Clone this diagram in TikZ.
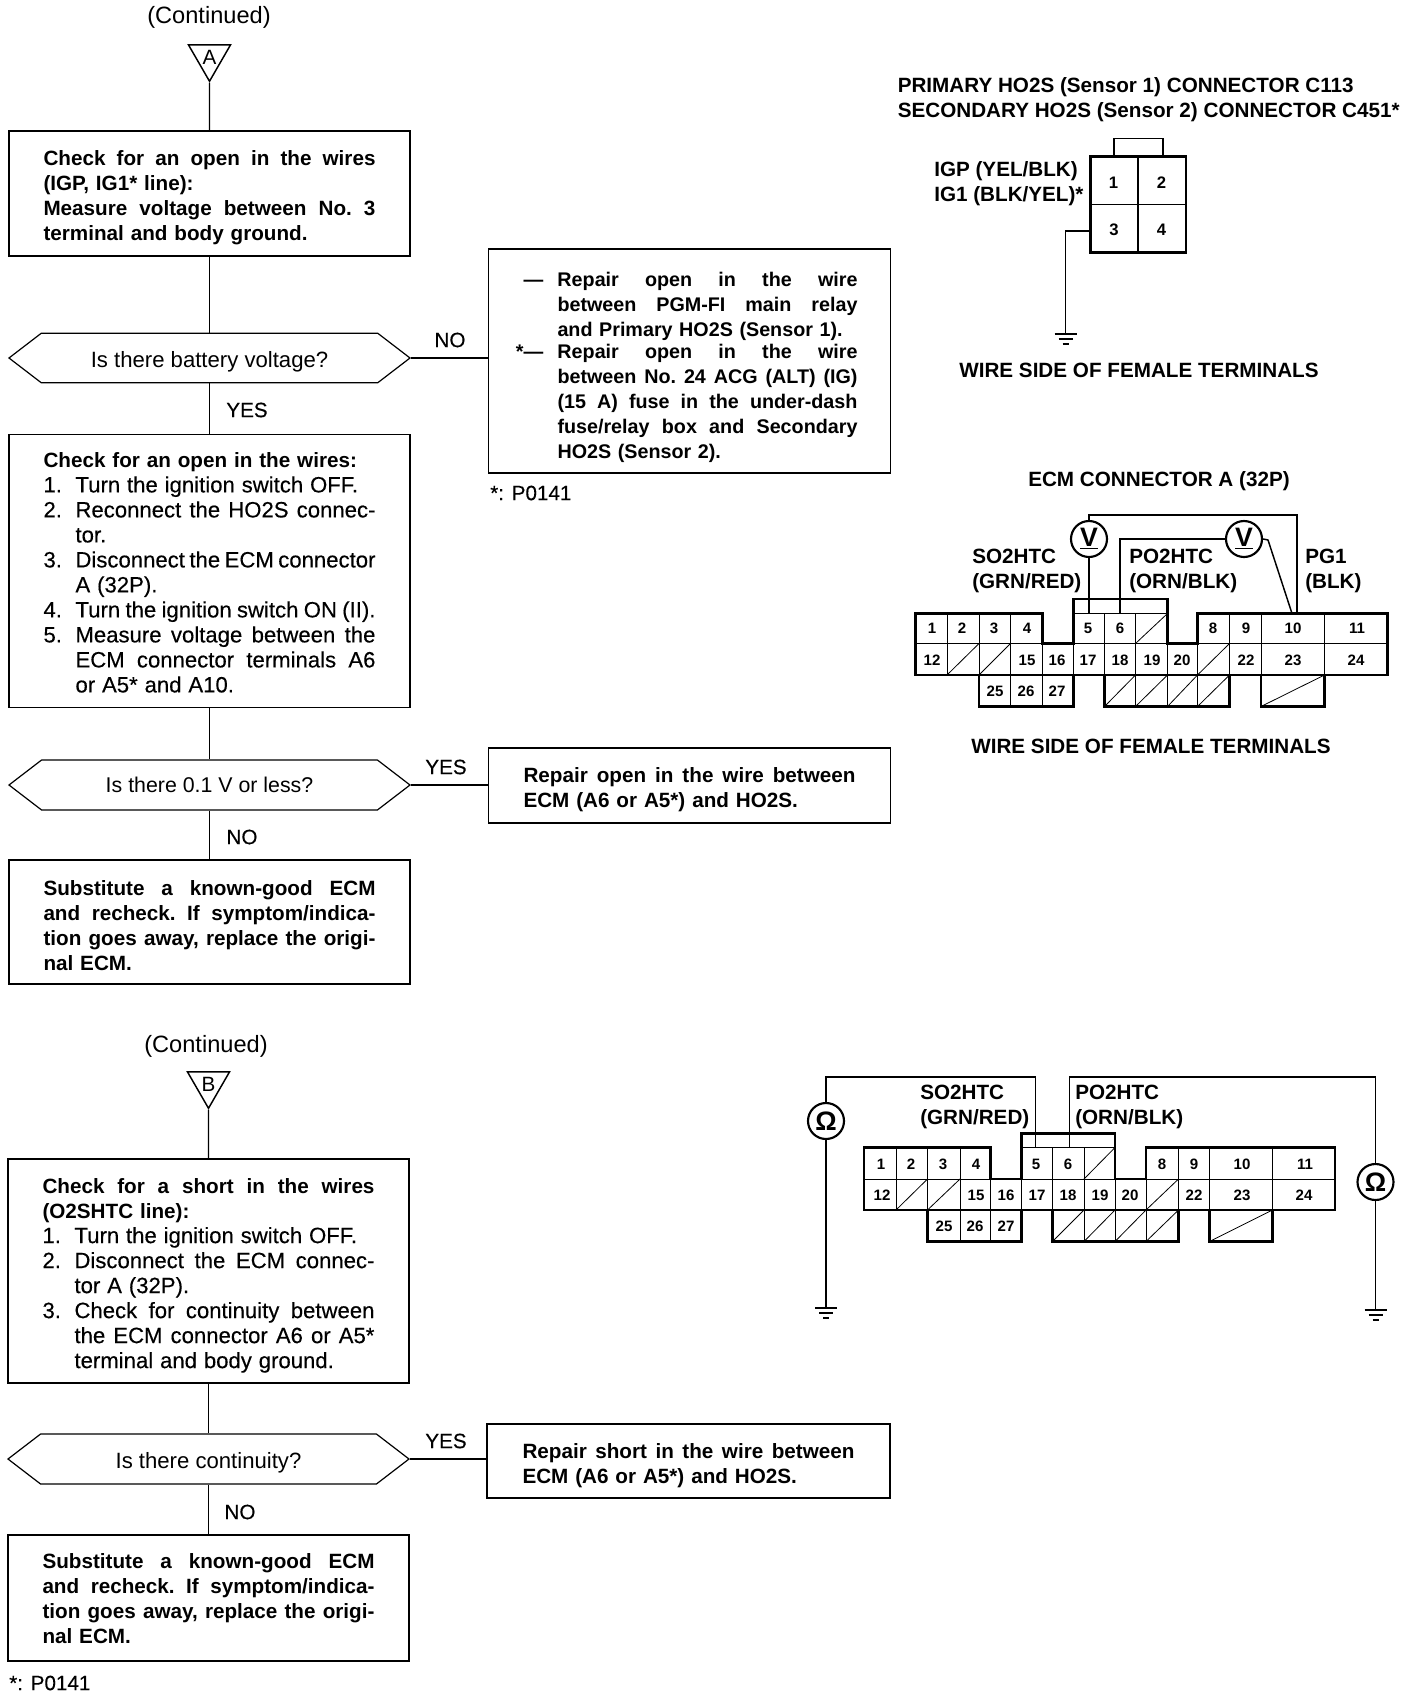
\documentclass[tikz,border=0pt]{standalone}
\usepackage{fontspec}
\setmainfont{Liberation Sans}
\newfontfamily\semifont[FakeBold=0.3]{Liberation Sans}
\usetikzlibrary{shapes.geometric,shapes.symbols}

\newcommand{\bigfont}{\fontsize{15.5pt}{18.75pt}\selectfont}
\newcommand{\plainfont}{\fontsize{16.6pt}{18.75pt}\selectfont}
\newcommand{\stepfont}{\plainfont\mdseries\semifont}
\newcommand{\fullline}[1]{\makebox[249pt][s]{\spaceskip=0pt\xspaceskip=0pt\frenchspacing #1}}
\newcommand{\stepline}[1]{\makebox[225pt][s]{\spaceskip=0pt\xspaceskip=0pt\frenchspacing #1}}
\newcommand{\stepnum}[1]{\makebox[24pt][l]{#1}}
\newcommand{\repairnum}[1]{\makebox[25.5pt][l]{#1}}
\newcommand{\dropby}[1]{\rule{0pt}{\dimexpr 11.3pt+#1\relax}}

\tikzset{
  flowline/.style={line width=1.1pt},
  flowbox/.style={draw,line width=1.1pt,inner sep=0pt,align=left,text width=249pt,font=\bigfont\bfseries},
  hexbox/.style={draw,line width=0.9pt,inner sep=0pt,signal,signal to=west and east,signal pointer angle=75,font=\plainfont},
  contri/.style={draw,line width=1.1pt,inner sep=0pt,regular polygon,regular polygon sides=3,shape border rotate=180,minimum size=36.4pt,font=\bigfont},
  flowlabel/.style={inner sep=0pt,font=\bigfont\semifont},
  conttext/.style={inner sep=0pt,font=\fontsize{17.7pt}{20pt}\selectfont},
  conntext/.style={inner sep=0pt,anchor=west,align=left,font=\bigfont\bfseries},
  pinnum/.style={inner sep=0pt,font=\fontsize{11.3pt}{13pt}\selectfont\bfseries},
  bigpinnum/.style={inner sep=0pt,font=\fontsize{12.5pt}{14pt}\selectfont\bfseries},
  outline/.style={line width=1.9pt,line join=miter},
  thinline/.style={line width=0.6pt},
  wire/.style={line width=1.1pt},
  meter/.style={draw,circle,line width=1.6pt,inner sep=0pt,minimum size=27pt,font=\fontsize{20pt}{22pt}\selectfont\bfseries},
  groundsym/.pic={
    \draw [wire] (-11,0) -- (11,0) ;
    \draw [wire] (-7,-5) -- (7,-5) ;
    \draw [wire] (-3,-10) -- (3,-10) ;
  }
}

\begin{document}
\begin{tikzpicture}[x=0.75pt,y=0.75pt,yscale=-1,xscale=1]
\useasboundingbox (0,0) rectangle (1408,1698);

% Text Node
\draw (209,17) node [conttext] (contA) {(Continued)};
%Shape: Triangle
\draw (209.5,57) node [contri] (triA) {A};
%Shape: Rectangle
\draw (209.5,193.5) node [flowbox,minimum width=300.75pt,minimum height=93.75pt] (boxAa) {\dropby{6.5pt}\fullline{Check for an open in the wires}\\
(IGP, IG1* line):\\
\fullline{Measure voltage between No. 3}\\
terminal and body ground.};
%Shape: Hexagon
\draw (209.5,358) node [hexbox,minimum width=300.75pt,minimum height=37pt] (hexAa) {\dropby{5.7pt}Is there battery voltage?};
%Shape: Rectangle
\draw (209.5,571) node [flowbox,minimum width=300.75pt,minimum height=205pt] (boxAb) {\dropby{2.2pt}Check for an open in the wires:\\
{\stepfont\stepnum{1.}Turn the ignition switch OFF.}\\
{\stepfont\stepnum{2.}\stepline{Reconnect the HO2S connec-}}\\
{\stepfont\stepnum{}tor.}\\
{\stepfont\stepnum{3.}\stepline{Disconnect the ECM connector}}\\
{\stepfont\stepnum{}A (32P).}\\
{\stepfont\stepnum{4.}\stepline{Turn the ignition switch ON (II).}}\\
{\stepfont\stepnum{5.}\stepline{Measure voltage between the}}\\
{\stepfont\stepnum{}\stepline{ECM connector terminals A6}}\\
{\stepfont\stepnum{}or A5* and A10.}};
%Shape: Hexagon
\draw (209.5,785) node [hexbox,font=\fontsize{16pt}{18.75pt}\selectfont,minimum width=300.75pt,minimum height=37.5pt] (hexAb) {Is there 0.1 V or less?};
%Shape: Rectangle
\draw (209.5,922) node [flowbox,minimum width=300.75pt,minimum height=93pt] (boxAc) {\dropby{5pt}\fullline{Substitute a known-good ECM}\\
\fullline{and recheck. If symptom/indica-}\\
\fullline{tion goes away, replace the origi-}\\
nal ECM.};
%Shape: Rectangle
\draw (689.5,361) node [flowbox,font=\fontsize{14.8pt}{18.75pt}\selectfont\bfseries,minimum width=301.5pt,minimum height=168pt] (boxAd) {\dropby{9.75pt}\repairnum{---}\stepline{Repair open in the wire}\\
\repairnum{}\stepline{between PGM-FI main relay}\\
\repairnum{}and Primary HO2S (Sensor 1).\\[-2.25pt]
\repairnum{\llap{*}---}\stepline{Repair open in the wire}\\
\repairnum{}\stepline{between No. 24 ACG (ALT) (IG)}\\
\repairnum{}\stepline{(15 A) fuse in the under-dash}\\
\repairnum{}\stepline{fuse/relay box and Secondary}\\
\repairnum{}HO2S (Sensor 2).};
%Shape: Rectangle
\draw (689.5,785.5) node [flowbox,minimum width=301.5pt,minimum height=56pt] (boxAe) {\dropby{6.5pt}\fullline{Repair open in the wire between}\\
ECM (A6 or A5*) and HO2S.};

%Straight Lines
\draw [flowline] (triA.south) -- (boxAa.north) ;
%Straight Lines
\draw [flowline] (boxAa.south) -- (hexAa.north) ;
%Straight Lines
\draw [flowline] (hexAa.south) -- (boxAb.north) ;
%Straight Lines
\draw [flowline] (boxAb.south) -- (hexAb.north) ;
%Straight Lines
\draw [flowline] (hexAb.south) -- (boxAc.north) ;
%Straight Lines
\draw [flowline] (hexAa.east) -- (hexAa.east -| boxAd.west) ;
%Straight Lines
\draw [flowline] (hexAb.east) -- (hexAb.east -| boxAe.west) ;

% Text Node
\draw (450,340) node [flowlabel] (noAa) {NO};
% Text Node
\draw (247,410) node [flowlabel] (yesAa) {YES};
% Text Node
\draw (446,767) node [flowlabel] (yesAb) {YES};
% Text Node
\draw (242,837) node [flowlabel] (noAb) {NO};
% Text Node
\draw (490,493) node [flowlabel,anchor=west] (noteA) {*: P0141};

% Text Node
\draw (206,1046) node [conttext] (contB) {(Continued)};
%Shape: Triangle
\draw (208.5,1084) node [contri] (triB) {B};
%Shape: Rectangle
\draw (208.5,1271) node [flowbox,minimum width=300.75pt,minimum height=168pt] (boxBa) {\dropby{6.5pt}\fullline{Check for a short in the wires}\\
(O2SHTC line):\\
{\stepfont\stepnum{1.}Turn the ignition switch OFF.}\\
{\stepfont\stepnum{2.}\stepline{Disconnect the ECM connec-}}\\
{\stepfont\stepnum{}tor A (32P).}\\
{\stepfont\stepnum{3.}\stepline{Check for continuity between}}\\
{\stepfont\stepnum{}\stepline{the ECM connector A6 or A5*}}\\
{\stepfont\stepnum{}terminal and body ground.}};
%Shape: Hexagon
\draw (208.5,1459) node [hexbox,minimum width=300.75pt,minimum height=37.5pt] (hexBa) {\dropby{5.7pt}Is there continuity?};
%Shape: Rectangle
\draw (208.5,1598) node [flowbox,minimum width=300.75pt,minimum height=94.5pt] (boxBb) {\dropby{1pt}\fullline{Substitute a known-good ECM}\\
\fullline{and recheck. If symptom/indica-}\\
\fullline{tion goes away, replace the origi-}\\
nal ECM.};
%Shape: Rectangle
\draw (688.5,1461) node [flowbox,minimum width=302.25pt,minimum height=55.5pt] (boxBc) {\dropby{6.4pt}\fullline{Repair short in the wire between}\\
ECM (A6 or A5*) and HO2S.};

%Straight Lines
\draw [flowline] (triB.south) -- (boxBa.north) ;
%Straight Lines
\draw [flowline] (boxBa.south) -- (hexBa.north) ;
%Straight Lines
\draw [flowline] (hexBa.south) -- (boxBb.north) ;
%Straight Lines
\draw [flowline] (hexBa.east) -- (hexBa.east -| boxBc.west) ;

% Text Node
\draw (446,1441) node [flowlabel] (yesBa) {YES};
% Text Node
\draw (240,1512) node [flowlabel] (noBa) {NO};
% Text Node
\draw (9,1683) node [flowlabel,anchor=west] (noteB) {*: P0141};

% Text Node
\draw (897.5,99.5) node [conntext] (hoTitle) {PRIMARY HO2S (Sensor 1) CONNECTOR C113\\
SECONDARY HO2S (Sensor 2) CONNECTOR C451*};
% Text Node
\draw (934,184) node [conntext] (hoWires) {IGP (YEL/BLK)\\
IG1 (BLK/YEL)*};
%Shape: Rectangle
\draw [thinline,line width=0.9pt] (1114,156.5) -- (1114,138.5) -- (1163,138.5) -- (1163,156.5) ;
%Shape: Rectangle
\draw [outline] (1090.5,156.5) -- (1186,156.5) -- (1186,252.5) -- (1090.5,252.5) -- cycle ;
%Straight Lines
\draw [thinline,line width=0.9pt] (1138,156.5) -- (1138,252.5) ;
%Straight Lines
\draw [thinline,line width=0.9pt] (1090.5,204.5) -- (1186,204.5) ;
% Text Node
\draw (1113.5,182.5) node [bigpinnum] (hoOne) {1};
% Text Node
\draw (1161.5,182.5) node [bigpinnum] (hoTwo) {2};
% Text Node
\draw (1114,229.5) node [bigpinnum] (hoThree) {3};
% Text Node
\draw (1161.5,229.5) node [bigpinnum] (hoFour) {4};
\coordinate (hoPin) at (1090.5,231);
\coordinate (hoGnd) at (1065.5,334);
%Straight Lines
\draw [wire] (hoPin) -| (hoGnd) ;
\path (hoGnd) pic {groundsym};
% Text Node
\draw (959,370) node [conntext] (hoSide) {WIRE SIDE OF FEMALE TERMINALS};

% Text Node
\draw (1028,481) node [conntext] (ecmTitle) {ECM CONNECTOR A (32P)};
% Text Node
\draw (972,570.5) node [conntext] (ecmSo) {SO2HTC\\
(GRN/RED)};
% Text Node
\draw (1129,570.5) node [conntext] (ecmPo) {PO2HTC\\
(ORN/BLK)};
% Text Node
\draw (1305,570.5) node [conntext] (ecmPg) {PG1\\
(BLK)};
%Shape: Connector
\draw [thinline] (915.5,643.5) -- (1387.5,643.5) ;
\draw [thinline] (1073.5,613.5) -- (1167.5,613.5) ;
\draw [thinline] (947,613.5) -- (947,675) ;
\draw [thinline] (979,613.5) -- (979,675) ;
\draw [thinline] (1010.5,613.5) -- (1010.5,706.5) ;
\draw [thinline] (1042.5,643.5) -- (1042.5,706.5) ;
\draw [thinline] (1073.5,643.5) -- (1073.5,675) ;
\draw [thinline] (1104.5,613.5) -- (1104.5,675) ;
\draw [thinline] (1135.5,613.5) -- (1135.5,706.5) ;
\draw [thinline] (1167.5,643.5) -- (1167.5,706.5) ;
\draw [thinline] (1197.5,643.5) -- (1197.5,706.5) ;
\draw [thinline] (1229.5,613.5) -- (1229.5,675) ;
\draw [thinline] (1261,613.5) -- (1261,675) ;
\draw [thinline] (1324.5,613.5) -- (1324.5,675) ;
\draw [thinline] (1135.5,643.5) -- (1167.5,613.5) ;
\draw [thinline] (947,675) -- (979,643.5) ;
\draw [thinline] (979,675) -- (1010.5,643.5) ;
\draw [thinline] (1197.5,675) -- (1229.5,643.5) ;
\draw [thinline] (1104.5,706.5) -- (1135.5,675) ;
\draw [thinline] (1135.5,706.5) -- (1167.5,675) ;
\draw [thinline] (1167.5,706.5) -- (1197.5,675) ;
\draw [thinline] (1197.5,706.5) -- (1229.5,675) ;
\draw [thinline] (1261,706.5) -- (1324.5,675) ;
\draw [outline] (915.5,613.5) -- (1042.5,613.5) -- (1042.5,643.5) -- (1073.5,643.5) -- (1073.5,599) -- (1167.5,599) -- (1167.5,643.5) -- (1197.5,643.5) -- (1197.5,613.5) -- (1387.5,613.5) -- (1387.5,675) -- (1324.5,675) -- (1324.5,706.5) -- (1261,706.5) -- (1261,675) -- (1229.5,675) -- (1229.5,706.5) -- (1104.5,706.5) -- (1104.5,675) -- (1073.5,675) -- (1073.5,706.5) -- (979,706.5) -- (979,675) -- (915.5,675) -- cycle ;
\draw [outline] (979,675) -- (1073.5,675) ;
\draw [outline] (1104.5,675) -- (1229.5,675) ;
\draw [outline] (1261,675) -- (1324.5,675) ;
% Text Node
\draw (932,628) node [pinnum] (ecmOne) {1};
\draw (962,628) node [pinnum] (ecmTwo) {2};
\draw (994,628) node [pinnum] (ecmThree) {3};
\draw (1027,628) node [pinnum] (ecmFour) {4};
\draw (1088,628) node [pinnum] (ecmFive) {5};
\draw (1120,628) node [pinnum] (ecmSix) {6};
\draw (1213,628) node [pinnum] (ecmEight) {8};
\draw (1246,628) node [pinnum] (ecmNine) {9};
\draw (1293,628) node [pinnum] (ecmTen) {10};
\draw (1357,628) node [pinnum] (ecmEleven) {11};
\draw (932,660) node [pinnum] (ecmTwelve) {12};
\draw (1027,660) node [pinnum] (ecmFifteen) {15};
\draw (1057,660) node [pinnum] (ecmSixteen) {16};
\draw (1088,660) node [pinnum] (ecmSeventeen) {17};
\draw (1120,660) node [pinnum] (ecmEighteen) {18};
\draw (1152,660) node [pinnum] (ecmNineteen) {19};
\draw (1182,660) node [pinnum] (ecmTwenty) {20};
\draw (1246,660) node [pinnum] (ecmTwentyTwo) {22};
\draw (1293,660) node [pinnum] (ecmTwentyThree) {23};
\draw (1356,660) node [pinnum] (ecmTwentyFour) {24};
\draw (995,691) node [pinnum] (ecmTwentyFive) {25};
\draw (1026,691) node [pinnum] (ecmTwentySix) {26};
\draw (1057,691) node [pinnum] (ecmTwentySeven) {27};
%Shape: Circle
\draw (1089,539) node [meter] (voltSo) {\underline{V}};
%Shape: Circle
\draw (1244,539) node [meter] (voltPo) {\underline{V}};
\coordinate (ecmPinFive) at (1089,613.5);
\coordinate (ecmPinSix) at (1120,613.5);
\coordinate (ecmPinTenA) at (1292,613.5);
\coordinate (ecmPinTenB) at (1297,613.5);
\coordinate (ecmTopBend) at (1297,515);
\coordinate (ecmSlopeBend) at (1268,540);
%Straight Lines
\draw [wire] (voltSo.south) -- (ecmPinFive) ;
%Straight Lines
\draw [wire] (voltSo.north) |- (ecmTopBend) -- (ecmPinTenB) ;
%Straight Lines
\draw [wire] (voltPo.west) -| (ecmPinSix) ;
%Straight Lines
\draw [wire] (voltPo.east) -- (ecmSlopeBend) -- (ecmPinTenA) ;
% Text Node
\draw (971,746) node [conntext] (ecmSide) {WIRE SIDE OF FEMALE TERMINALS};

% Text Node
\draw (920,1106.5) node [conntext] (testSo) {SO2HTC\\
(GRN/RED)};
% Text Node
\draw (1075,1106.5) node [conntext] (testPo) {PO2HTC\\
(ORN/BLK)};
%Shape: Connector
\draw [thinline] (864,1179) -- (1335,1179) ;
\draw [thinline] (1021.5,1147.5) -- (1115,1147.5) ;
\draw [thinline] (896,1147.5) -- (896,1210) ;
\draw [thinline] (927.5,1147.5) -- (927.5,1210) ;
\draw [thinline] (960,1147.5) -- (960,1241.5) ;
\draw [thinline] (990.5,1179) -- (990.5,1241.5) ;
\draw [thinline] (1021.5,1179) -- (1021.5,1210) ;
\draw [thinline] (1052.5,1147.5) -- (1052.5,1210) ;
\draw [thinline] (1084,1147.5) -- (1084,1241.5) ;
\draw [thinline] (1115,1179) -- (1115,1241.5) ;
\draw [thinline] (1146,1179) -- (1146,1241.5) ;
\draw [thinline] (1178.5,1147.5) -- (1178.5,1210) ;
\draw [thinline] (1209.5,1147.5) -- (1209.5,1210) ;
\draw [thinline] (1272.5,1147.5) -- (1272.5,1210) ;
\draw [thinline] (1084,1179) -- (1115,1147.5) ;
\draw [thinline] (896,1210) -- (927.5,1179) ;
\draw [thinline] (927.5,1210) -- (960,1179) ;
\draw [thinline] (1146,1210) -- (1178.5,1179) ;
\draw [thinline] (1052.5,1241.5) -- (1084,1210) ;
\draw [thinline] (1084,1241.5) -- (1115,1210) ;
\draw [thinline] (1115,1241.5) -- (1146,1210) ;
\draw [thinline] (1146,1241.5) -- (1178.5,1210) ;
\draw [thinline] (1209.5,1241.5) -- (1272.5,1210) ;
\draw [outline] (864,1147.5) -- (990.5,1147.5) -- (990.5,1179) -- (1021.5,1179) -- (1021.5,1133.5) -- (1115,1133.5) -- (1115,1179) -- (1146,1179) -- (1146,1147.5) -- (1335,1147.5) -- (1335,1210) -- (1272.5,1210) -- (1272.5,1241.5) -- (1209.5,1241.5) -- (1209.5,1210) -- (1178.5,1210) -- (1178.5,1241.5) -- (1052.5,1241.5) -- (1052.5,1210) -- (1021.5,1210) -- (1021.5,1241.5) -- (927.5,1241.5) -- (927.5,1210) -- (864,1210) -- cycle ;
\draw [outline] (927.5,1210) -- (1021.5,1210) ;
\draw [outline] (1052.5,1210) -- (1178.5,1210) ;
\draw [outline] (1209.5,1210) -- (1272.5,1210) ;
% Text Node
\draw (881,1164) node [pinnum] (testOne) {1};
\draw (911,1164) node [pinnum] (testTwo) {2};
\draw (943,1164) node [pinnum] (testThree) {3};
\draw (976,1164) node [pinnum] (testFour) {4};
\draw (1036,1164) node [pinnum] (testFive) {5};
\draw (1068,1164) node [pinnum] (testSix) {6};
\draw (1162,1164) node [pinnum] (testEight) {8};
\draw (1194,1164) node [pinnum] (testNine) {9};
\draw (1242,1164) node [pinnum] (testTen) {10};
\draw (1305,1164) node [pinnum] (testEleven) {11};
\draw (882,1195) node [pinnum] (testTwelve) {12};
\draw (976,1195) node [pinnum] (testFifteen) {15};
\draw (1006,1195) node [pinnum] (testSixteen) {16};
\draw (1037,1195) node [pinnum] (testSeventeen) {17};
\draw (1068,1195) node [pinnum] (testEighteen) {18};
\draw (1100,1195) node [pinnum] (testNineteen) {19};
\draw (1130,1195) node [pinnum] (testTwenty) {20};
\draw (1194,1195) node [pinnum] (testTwentyTwo) {22};
\draw (1242,1195) node [pinnum] (testTwentyThree) {23};
\draw (1304,1195) node [pinnum] (testTwentyFour) {24};
\draw (944,1226) node [pinnum] (testTwentyFive) {25};
\draw (975,1226) node [pinnum] (testTwentySix) {26};
\draw (1006,1226) node [pinnum] (testTwentySeven) {27};
%Shape: Circle
\draw (826,1121) node [meter] (ohmLeft) {Ω};
%Shape: Circle
\draw (1375.5,1182) node [meter] (ohmRight) {Ω};
\coordinate (testPinFive) at (1035.5,1147.5);
\coordinate (testPinSix) at (1069.5,1147.5);
\coordinate (testTopA) at (1035.5,1077);
\coordinate (testTopB) at (1375.5,1077);
\coordinate (gndLeft) at (826,1308);
\coordinate (gndRight) at (1375.5,1310);
%Straight Lines
\draw [wire] (ohmLeft.north) |- (testTopA) -- (testPinFive) ;
%Straight Lines
\draw [wire] (testPinSix) |- (testTopB) -- (ohmRight.north) ;
%Straight Lines
\draw [wire] (ohmLeft.south) -- (gndLeft) ;
%Straight Lines
\draw [wire] (ohmRight.south) -- (gndRight) ;
\path (gndLeft) pic {groundsym};
\path (gndRight) pic {groundsym};

\end{tikzpicture}
\end{document}
